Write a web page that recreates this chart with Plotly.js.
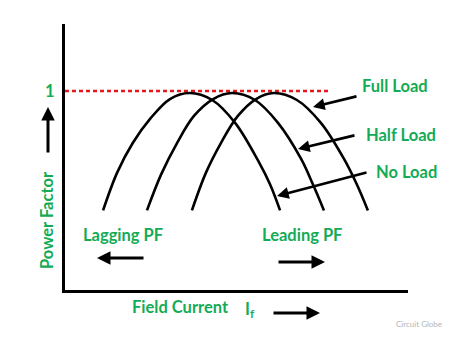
<!DOCTYPE html>
<html>
<head>
<meta charset="utf-8">
<script src="https://cdn.plot.ly/plotly-3.0.1.min.js"></script>
<style>html,body{margin:0;padding:0;background:#fff;}#chart{width:471px;height:339px;}</style>
</head>
<body>
<div id="chart"></div>
<script>
// Field current (arbitrary units) and power factor
var noLoadX   = [1.11, 1.52, 1.98, 2.48, 3.06, 3.64, 4.29, 4.96, 5.63, 5.98, 6.27];
var noLoadY   = [0.40, 0.59, 0.74, 0.86, 0.96, 0.99, 0.955, 0.84, 0.65, 0.53, 0.40];
var halfLoadX = [2.39, 2.80, 3.27, 3.76, 4.32, 4.87, 5.54, 6.21, 6.88, 7.23, 7.55];
var halfLoadY = [0.40, 0.58, 0.74, 0.875, 0.96, 0.99, 0.955, 0.84, 0.66, 0.53, 0.40];
var fullLoadX = [3.70, 4.11, 4.55, 5.04, 5.57, 6.09, 6.76, 7.46, 8.13, 8.51, 8.83];
var fullLoadY = [0.40, 0.59, 0.74, 0.875, 0.96, 0.99, 0.955, 0.84, 0.66, 0.53, 0.40];
var unityX = [0, 7.73];
var unityY = [1, 1];
var yTickVals = [1];
var yTickText = ['1'];

var GREEN = '#14ab55';
var FONT = 'Lato, "DejaVu Sans", sans-serif';
var FS = 16.5;

// plot-area geometry in pixels (for placing annotations)
var L = 65, T = 24, W = 343, H = 266;
function px(x) { return (x - L) / W; }
function py(y) { return (T + H - y) / H; }

function curve(x, y, name) {
  return {x: x, y: y, name: name, mode: 'lines', type: 'scatter',
          line: {color: '#000', width: 2.6, shape: 'spline', smoothing: 1}, hoverinfo: 'skip'};
}

var data = [
  {x: unityX, y: unityY, mode: 'lines', type: 'scatter', name: 'PF = 1',
   line: {color: '#e3161b', width: 2.6, dash: '4px,3px'}, hoverinfo: 'skip'},
  curve(noLoadX, noLoadY, 'No Load'),
  curve(halfLoadX, halfLoadY, 'Half Load'),
  curve(fullLoadX, fullLoadY, 'Full Load')
];

function label(text, cx, cy, size, color, angle) {
  return {text: text, x: px(cx), y: py(cy), xref: 'paper', yref: 'paper',
          xanchor: 'center', yanchor: 'middle', showarrow: false, textangle: angle || 0,
          font: {family: FONT, size: size, color: color || GREEN, weight: 700}};
}
function arrow(tipX, tipY, tailX, tailY, w) {
  return {text: '', x: px(tipX), y: py(tipY), xref: 'paper', yref: 'paper',
          ax: tailX - tipX, ay: tailY - tipY, showarrow: true,
          arrowhead: 2, arrowsize: 0.9, arrowwidth: w || 2.6, arrowcolor: '#000', standoff: 0};
}

var annotations = [
  label('Full Load', 395, 86, FS),
  label('Half Load', 401, 135, FS),
  label('No Load', 406, 172, FS),
  label('Lagging PF', 123, 235, FS),
  label('Leading PF', 302, 235, FS),
  label('Field Current', 180, 307, FS),
  label('I<sub>f</sub>', 250, 309, FS),
  label('Power Factor', 47, 220, FS, GREEN, -90),
  {text: 'Circuit Globe', x: px(419), y: py(324), xref: 'paper', yref: 'paper',
   xanchor: 'center', yanchor: 'middle', showarrow: false,
   font: {family: FONT, size: 8, color: '#b5b5b5'}},
  arrow(313, 107, 358, 96, 2.6),
  arrow(298, 149, 356, 135, 2.6),
  arrow(277, 196, 368, 172, 2.6),
  arrow(48, 107, 48, 154, 3),
  arrow(97, 258, 145, 258, 3),
  arrow(325, 262, 277, 262, 3),
  arrow(320, 313, 272, 313, 3)
];

var layout = {
  width: 471, height: 339,
  margin: {l: L, r: 471 - L - W, t: T, b: 339 - T - H, pad: 0},
  paper_bgcolor: '#fff', plot_bgcolor: '#fff',
  showlegend: false,
  xaxis: {range: [0, 10], showline: true, linecolor: '#000', linewidth: 3,
          showgrid: false, zeroline: false, showticklabels: false, ticks: '', fixedrange: true},
  yaxis: {range: [0, 1.337], showline: true, linecolor: '#000', linewidth: 3,
          showgrid: false, zeroline: false, ticks: '', tickvals: yTickVals, ticktext: yTickText,
          ticklabelstandoff: 4,
          tickfont: {family: FONT, size: FS, color: GREEN, weight: 700}, fixedrange: true},
  annotations: annotations
};

Plotly.newPlot('chart', data, layout, {staticPlot: true, displayModeBar: false});
</script>
</body>
</html>
